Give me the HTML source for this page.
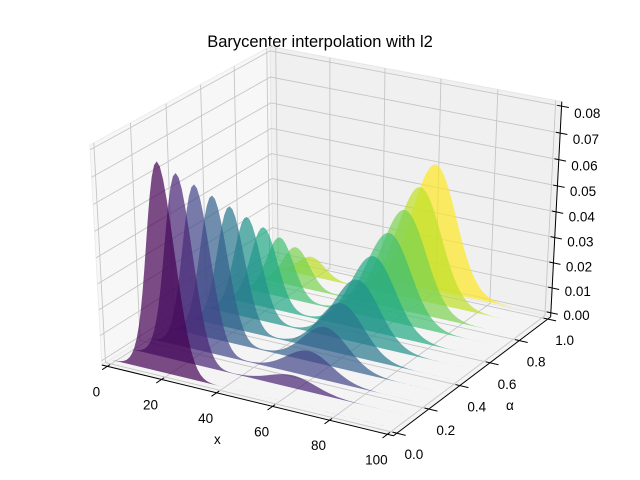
<!DOCTYPE html>
<html><head><meta charset="utf-8"><style>
html,body{margin:0;padding:0;background:#fff;}
svg{display:block;font-family:"Liberation Sans","DejaVu Sans",sans-serif;}
</style></head><body>
<svg id="chart" width="640" height="480" viewBox="0 0 640 480">
<rect width="640" height="480" fill="#fff"/>
<text x="320" y="47" font-size="16.5" text-anchor="middle" fill="#000">Barycenter interpolation with l2</text>
<g id="panes"></g>
<g id="grid"></g>
<g id="series"></g>
<g id="axes"></g>
</svg>
<script>
const alphaValues = [0, 0.1, 0.2, 0.3, 0.4, 0.5, 0.6, 0.7, 0.8, 0.9, 1.0];
const seriesColors = ["#440154","#482475","#414487","#355f8d","#2a788e","#21918c","#22a884","#44bf70","#7ad151","#bddf26","#fde725"];
const distA = [0.00003,0.00006,0.00012,0.00025,0.00048,0.00089,0.00158,0.00272,0.00448,0.00709,0.01080,0.01579,0.02218,0.02995,0.03884,0.04839,0.05794,0.06665,0.07366,0.07821,0.07979,0.07821,0.07366,0.06665,0.05794,0.04839,0.03884,0.02995,0.02218,0.01579,0.01080,0.00709,0.00448,0.00272,0.00158,0.00089,0.00048,0.00025,0.00012,0.00006,0.00003,
0,0,0,0,0,0,0,0,0,0,0,0,0,0,0,0,0,0,0,0,0,0,0,0,0,0,0,0,0,0,0,0,0,0,0,0,0,0,0,0,0,0,0,0,0,0,0,0,0,0,0,0,0,0,0,0,0,0,0];
const distB = [0,0,0,0,0,0,0,0,0,0,0,0,0,0,0,0,0,0,0,0,0,0,0,0,0,0,0,0,0,0,
0.00004,0.00007,0.00011,0.00017,0.00025,0.00038,0.00055,0.00080,0.00114,0.00159,0.00219,0.00297,0.00397,0.00522,0.00675,0.00860,0.01079,0.01332,0.01619,0.01938,0.02283,0.02649,0.03025,0.03401,0.03764,0.04102,0.04401,0.04648,0.04834,0.04948,0.04987,
0.04948,0.04834,0.04648,0.04401,0.04102,0.03764,0.03401,0.03025,0.02649,0.02283,0.01938,0.01619,0.01332,0.01079,0.00860,0.00675,0.00522,0.00397,0.00297,0.00219,0.00159,0.00114,0.00080,0.00055,0.00038,0.00025,0.00017,0.00011,0.00007,0.00004,
0,0,0,0,0,0,0,0,0];
const xTicks = [0, 20, 40, 60, 80, 100];
const yTicks = [0.0, 0.2, 0.4, 0.6, 0.8, 1.0];
const yTickLabels = ["0.0","0.2","0.4","0.6","0.8","1.0"];
const zTicks = [0.00, 0.01, 0.02, 0.03, 0.04, 0.05, 0.06, 0.07, 0.08];
const zTickLabels = ["0.00","0.01","0.02","0.03","0.04","0.05","0.06","0.07","0.08"];
const xLim = [0, 100], yLim = [0, 1], zLim = [0, 0.08];

const NS = "http://www.w3.org/2000/svg";
function box(lim){const r=lim[1]-lim[0];return [lim[0]-r/48, lim[1]+r/48];}
const XB = box(xLim), YB = box(yLim), ZB = box(zLim);
const D = 10, SX = 336.7, SY = 251, CX = 329.7, CY = 234.5;
const dir=[0.4330,-0.75,0.5], rgt=[0.8660,0.5,0], upv=[-0.25,0.4330,0.8660];
function proj(x,y,z){
  const q=[(x-XB[0])/(XB[1]-XB[0])-0.5,(y-YB[0])/(YB[1]-YB[0])-0.5,(z-ZB[0])/(ZB[1]-ZB[0])-0.5];
  const dot=(a)=>a[0]*q[0]+a[1]*q[1]+a[2]*q[2];
  const f=D/(D-dot(dir));
  return [CX+SX*dot(rgt)*f, CY-SY*dot(upv)*f];
}
function pts(arr){return arr.map(p=>{const s=proj(p[0],p[1],p[2]);return s[0].toFixed(2)+","+s[1].toFixed(2);}).join(" ");}
function mk(tag,attrs,parent){const e=document.createElementNS(NS,tag);for(const k in attrs)e.setAttribute(k,attrs[k]);parent.appendChild(e);return e;}

const panes=document.getElementById('panes');
let e;
e=mk('polygon',{points:pts([[XB[0],YB[0],ZB[0]],[XB[1],YB[0],ZB[0]],[XB[1],YB[1],ZB[0]],[XB[0],YB[1],ZB[0]]]),fill:"#f4f4f4",stroke:"#ececec"},panes);


e=mk('polygon',{points:pts([[XB[0],YB[0],ZB[0]],[XB[0],YB[1],ZB[0]],[XB[0],YB[1],ZB[1]],[XB[0],YB[0],ZB[1]]]),fill:"#f7f7f7",stroke:"#ececec"},panes);


e=mk('polygon',{points:pts([[XB[0],YB[1],ZB[0]],[XB[1],YB[1],ZB[0]],[XB[1],YB[1],ZB[1]],[XB[0],YB[1],ZB[1]]]),fill:"#f0f0f0",stroke:"#e6e6e6"},panes);



const grid=document.getElementById('grid');
const gs={fill:"none",stroke:"#c6c6c6","stroke-width":"0.9"};
xTicks.forEach(x=>{
  const g=mk('polyline',Object.assign({points:pts([[x,YB[0],ZB[0]],[x,YB[1],ZB[0]],[x,YB[1],ZB[1]]])},gs),grid);
  
  
});
yTicks.forEach(y=>{
  const g=mk('polyline',Object.assign({points:pts([[XB[1],y,ZB[0]],[XB[0],y,ZB[0]],[XB[0],y,ZB[1]]])},gs),grid);
  
  
});
zTicks.forEach(z=>{
  const g=mk('polyline',Object.assign({points:pts([[XB[0],YB[0],z],[XB[0],YB[1],z],[XB[1],YB[1],z]])},gs),grid);
  
  
});

const series=document.getElementById('series');
for(let k=alphaValues.length-1;k>=0;k--){
  const a=alphaValues[k];
  const verts=[];
  for(let i=0;i<distA.length;i++){verts.push([i,a,(1-a)*distA[i]+a*distB[i]]);}
  const p=mk('polygon',{points:pts(verts),fill:seriesColors[k],"fill-opacity":"0.7",stroke:"none"},series);
  
  
}

const axes=document.getElementById('axes');
const ls={stroke:"#000","stroke-width":"1",fill:"none"};
e=mk('polyline',Object.assign({points:pts([[XB[0],YB[0],ZB[0]],[XB[1],YB[0],ZB[0]]])},ls),axes);


e=mk('polyline',Object.assign({points:pts([[XB[1],YB[0],ZB[0]],[XB[1],YB[1],ZB[0]]])},ls),axes);


e=mk('polyline',Object.assign({points:pts([[XB[1],YB[1],ZB[0]],[XB[1],YB[1],ZB[1]]])},ls),axes);


const fs="13.5";
xTicks.forEach(x=>{
  const t=mk('polyline',Object.assign({points:pts([[x,YB[0]+0.015,ZB[0]],[x,YB[0]-0.03,ZB[0]]])},ls),axes);
  
  
  const s=proj(x,YB[0],ZB[0]);
  const l=mk('text',{x:(s[0]-11).toFixed(1),y:(s[1]+30).toFixed(1),"font-size":fs,"text-anchor":"middle",fill:"#000"},axes);
  l.textContent=String(x);
  
  
});
yTicks.forEach((y,i)=>{
  const t=mk('polyline',Object.assign({points:pts([[XB[1]-1.5,y,ZB[0]],[XB[1]+3,y,ZB[0]]])},ls),axes);
  
  
  const s=proj(XB[1],y,ZB[0]);
  const l=mk('text',{x:(s[0]+17).toFixed(1),y:(s[1]+26).toFixed(1),"font-size":fs,"text-anchor":"middle",fill:"#000"},axes);
  l.textContent=yTickLabels[i];
  
  
});
zTicks.forEach((z,i)=>{
  const t=mk('polyline',Object.assign({points:pts([[XB[1]-1.5,YB[1],z],[XB[1]+2.5,YB[1],z]])},ls),axes);
  
  
  const s=proj(XB[1],YB[1],z);
  const dy=2.4+4.3*(z-zLim[0])/(zLim[1]-zLim[0]);
  const l=mk('text',{x:(s[0]+12.5).toFixed(1),y:(s[1]+dy+5).toFixed(1),"font-size":fs,"text-anchor":"start",fill:"#000"},axes);
  l.textContent=zTickLabels[i];
  
  
});
</script>
<svg width="0" height="0" style="position:absolute"></svg>
<div style="position:absolute;left:0;top:0;width:640px;height:480px;pointer-events:none;font-family:'Liberation Sans','DejaVu Sans',sans-serif;font-size:13.5px;">
<span style="position:absolute;left:214px;top:432px;">x</span>
<span style="position:absolute;left:506px;top:398px;">α</span>
</div>
</body></html>
